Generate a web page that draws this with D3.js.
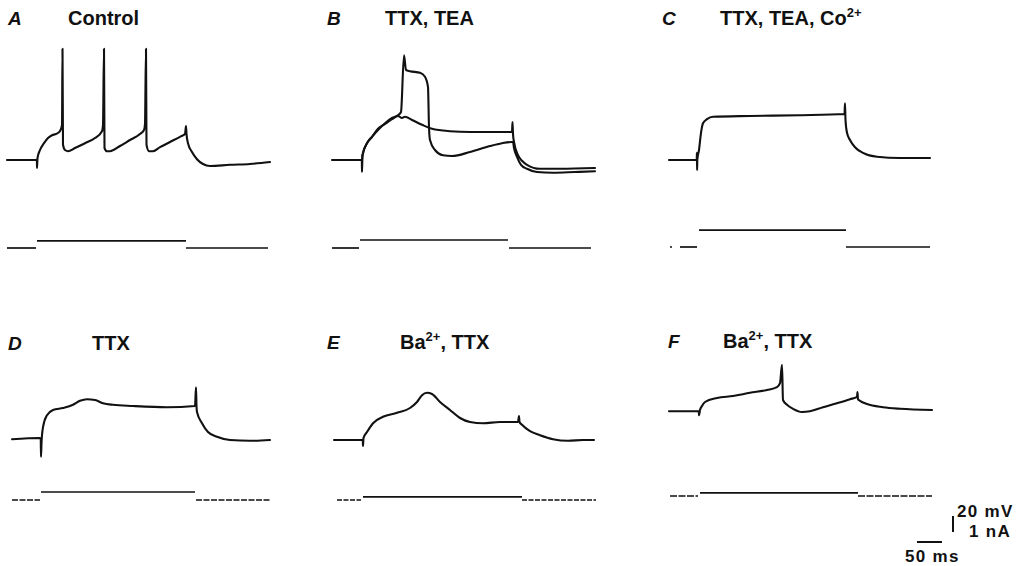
<!DOCTYPE html>
<meta charset="utf-8">
<style>
    body { margin: 0; background: #fff; }
    svg { display: block; }
    .trace { fill: none; stroke: #111; stroke-width: 2.1px; stroke-linejoin: round; stroke-linecap: round; }
    .current { fill: none; stroke: #111; stroke-width: 1.7px; }
    .scalebar { stroke: #111; stroke-width: 2px; }
    text { font-family: "Liberation Sans", Arial, sans-serif; font-weight: bold; fill: #111; }
</style>
<body>
<div id="chart"></div>
<script src="https://d3js.org/d3.v7.min.js"></script>
<script>
// membrane potential traces: [ms from current step onset, mV]
var vA = [[-60,-60],[-1,-60],[-0.2,-60],[0,-70],[1,-57.5],[6,-47.5],[14,-39],[22,-32.5],[30,-29],[38,-27.5],[46,-24],[50,-16],
    [51,79],[52,-41],[56,-47.5],[62,-49],[76,-45],[96,-39],[116,-32.5],[130,-24],[132,-16],
    [134,79],[135,-45],[140,-49],[146,-49],[166,-42.5],[186,-35],[206,-27.5],[214,-22.5],[216,-15],
    [218,79],[219,-41],[224,-49],[232,-49],[246,-44],[266,-37.5],[286,-31],[296,-27.5],[298,-17.5],[299,-27.5],
    [302,-39],[310,-50],[320,-59],[332,-65],[346,-67.5],[386,-66],[426,-65],[466,-62.5]];
var vB1 = [[-60,-60],[-2,-60],[-0.3,-60],[0,-75],[1,-54],[10,-39],[20,-31],[32,-22.5],[46,-14],[60,-7.5],[72,-4],[78,0],
    [84,71],[88,52.5],[96,51],[116,49],[126,44],[132,31],[134,-19],[136,-35],[146,-47.5],[162,-54],[180,-55],
    [216,-50],[256,-42.5],[280,-39],[300,-37.5],[302,-37.5],[304,-45],[310,-56],[318,-66],[330,-71],[350,-75],
    [382,-76],[426,-75],[466,-74]];
var vB2 = [[-2,-60],[0,-60],[1,-54],[10,-39],[20,-31],[32,-21],[46,-15],[60,-9],[72,-5],[80,-7.5],[86,-6],
    [100,-10],[120,-16],[140,-21],[176,-24],[216,-25],[300,-25],[301,-12.5],[302,-27.5],[304,-37.5],[312,-54],
    [320,-61],[330,-66],[356,-71],[396,-71],[466,-70]];
var vC = [[-56,-60],[-2,-60],[-0.5,-60],[-0.2,-51],[0.2,-72.5],[0.6,-60],[4,-47.5],[8,-26],[12,-14],[20,-9],[32,-6],
    [106,-5],[206,-4],[295,-2.5],[296,11],[297,-10],[300,-26],[306,-35],[316,-44],[332,-51],[360,-56],
    [406,-57.5],[466,-57.5]];
var vD = [[-58,-59],[-2,-57.5],[-0.5,-59],[0,-81],[1,-64],[4,-44],[12,-29],[24,-22.5],[44,-20],[64,-16],[78,-11],
    [92,-9],[108,-10],[124,-14],[144,-16],[184,-17.5],[252,-19],[308,-17.5],[310,6],[311,-17.5],[312,-25],
    [322,-39],[334,-50],[352,-56],[378,-60],[418,-61],[458,-60]];
var vE = [[-58,-60],[-2,-60],[-0.5,-60],[0,-67.5],[1,-57.5],[8,-50],[20,-39],[40,-31],[68,-26],[94,-20],[108,-12.5],
    [118,-4],[128,-1],[138,-2.5],[154,-12.5],[174,-22.5],[194,-32.5],[214,-37.5],[240,-39],[274,-37.5],[310,-37.5],
    [312,-30],[313,-37.5],[318,-41],[334,-49],[354,-54],[380,-59],[410,-61],[440,-60],[462,-60]];
var vF = [[-60,-24],[-2,-24],[-0.5,-24],[0,-29],[2,-22.5],[6,-17.5],[12,-12.5],[36,-7.5],[68,-5],[102,-1],[136,2.5],
    [156,6],[162,11],[166,34],[168,-10],[176,-16],[188,-21],[206,-25],[222,-24],[248,-19],[276,-14],
    [302,-9],[316,-6],[317,0],[318,-9],[322,-11],[336,-15],[368,-19],[402,-21],[466,-22.5]];

// injected current: [from ms, to ms, nA]
var iA = [[-60,-2,0],[0,298,0.44],[298,462,0]];
var iB = [[-60,-6,0],[-4,292,0.5],[294,458,0]];
var iC = [[-54,-50,0],[-34,0,0],[4,298,1.06],[298,466,0]];
var iD = [[-58,-2,0],[0,308,0.5],[310,458,0]];
var iE = [[-52,-4,0],[0,318,0.19],[318,466,0]];
var iF = [[-58,-2,0.25],[2,318,0.44],[318,466,0.25]];

var letters = ["A", "B", "C", "D", "E", "F"];
var titles = ["Control", "TTX, TEA", "TTX, TEA, Co^2+", "TTX", "Ba^2+^, TTX", "Ba^2+^, TTX"];
var scaleBar = { ms: 50, mV: 20, msLabel: "50 ms", mvLabel: "20 mV", naLabel: "1 nA" };

var width = 1022, height = 566;
var PX_MS = 0.5, PX_MV = 0.8, PX_NA = 16;

var panels = [
    { x0: 37,  vy: 160, iy: 248, lx: 8,   tx: 68,  ty: 25,  v: [vA],      i: iA },
    { x0: 362, vy: 160, iy: 248, lx: 327, tx: 385, ty: 25,  v: [vB1, vB2], i: iB },
    { x0: 697, vy: 160, iy: 247, lx: 662, tx: 720, ty: 25,  v: [vC],      i: iC },
    { x0: 41,  vy: 440, iy: 500, lx: 8,   tx: 92,  ty: 350, v: [vD],      i: iD, dash: "6,1.5" },
    { x0: 363, vy: 440, iy: 500, lx: 327, tx: 400, ty: 349, v: [vE],      i: iE, dash: "5,1.5" },
    { x0: 699, vy: 440, iy: 500, lx: 668, tx: 723, ty: 348, v: [vF],      i: iF, dash: "7,1.5" }
];

function makeX(x0) { return d3.scaleLinear().domain([0, 100]).range([x0, x0 + 100 * PX_MS]); }
function makeV(y0) { return d3.scaleLinear().domain([-60, 40]).range([y0, y0 - 100 * PX_MV]); }
function makeI(y0) { return d3.scaleLinear().domain([0, 1]).range([y0, y0 - PX_NA]); }

var svg = d3.select("#chart").append("svg")
    .attr("width", width)
    .attr("height", height);

svg.append("rect").attr("width", width).attr("height", height).attr("fill", "#fff");

panels.forEach(function(p, k) {
    var x = makeX(p.x0), yv = makeV(p.vy), yi = makeI(p.iy);
    var g = svg.append("g");

    var line = d3.line()
        .x(function(d) { return x(d[0]); })
        .y(function(d) { return yv(d[1]); })
        .curve(d3.curveMonotoneX);

    g.selectAll("path.trace")
        .data(p.v)
        .enter().append("path")
        .attr("class", "trace")
        .attr("d", line);

    var seg = d3.line()
        .x(function(d) { return x(d[0]); })
        .y(function(d) { return yi(d[1]); });

    g.selectAll("path.current")
        .data(p.i)
        .enter().append("path")
        .attr("class", "current")
        .attr("stroke-dasharray", function(d) { return p.dash && d[2] !== p.i[1][2] ? p.dash : null; })
        .attr("d", function(d) { return seg([[d[0], d[2]], [d[1], d[2]]]); });

    g.append("text")
        .attr("x", p.lx)
        .attr("y", p.ty)
        .style("font-size", "19px")
        .style("font-style", "italic")
        .text(letters[k]);

    var t = g.append("text")
        .attr("x", p.tx)
        .attr("y", p.ty)
        .style("font-size", "20px");
    titles[k].split("^").forEach(function(part, j) {
        if (!part) return;
        var sup = j % 2 === 1;
        t.append("tspan")
            .attr("dy", sup ? -8 : (j > 0 ? 8 : 0))
            .style("font-size", sup ? "13px" : null)
            .text(part);
    });
});

// scale bars
var sx = makeX(917), sv = makeV(532);
svg.append("line").attr("class", "scalebar")
    .attr("x1", sx(0)).attr("x2", sx(scaleBar.ms))
    .attr("y1", 542).attr("y2", 542);
svg.append("line").attr("class", "scalebar")
    .attr("x1", 953).attr("x2", 953)
    .attr("y1", sv(-60)).attr("y2", sv(-60 + scaleBar.mV));

svg.append("text").attr("x", 957).attr("y", 517)
    .style("font-size", "17px").style("letter-spacing", "1.3px").text(scaleBar.mvLabel);
svg.append("text").attr("x", 969).attr("y", 537)
    .style("font-size", "17px").style("letter-spacing", "1.3px").text(scaleBar.naLabel);
svg.append("text").attr("x", 905).attr("y", 562)
    .style("font-size", "17px").style("letter-spacing", "1.3px").text(scaleBar.msLabel);
</script>
</body>
</html>
